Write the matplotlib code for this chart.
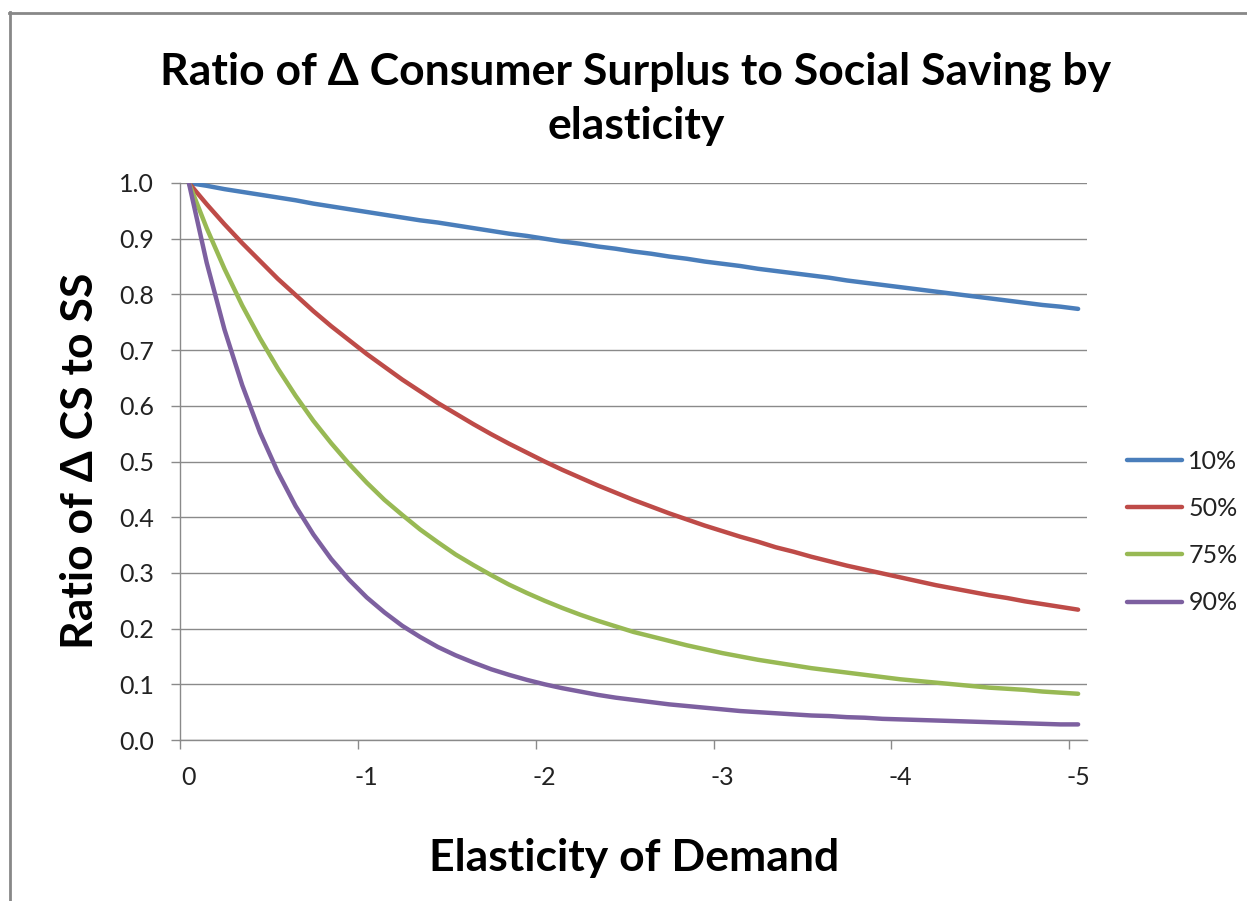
import matplotlib
matplotlib.use("Agg")
import matplotlib.pyplot as plt
from matplotlib.lines import Line2D

# Elasticity categories 0, -0.1, ..., -5.0 (one point per category)
elasticity = [round(-0.1 * i, 1) for i in range(51)]
tick_labels = ["0", "-1", "-2", "-3", "-4", "-5"]
series_names = ["10%", "50%", "75%", "90%"]

ratio_10 = [1.000, 0.995, 0.989, 0.984, 0.979, 0.974, 0.969, 0.963, 0.958, 0.953,
            0.948, 0.943, 0.938, 0.933, 0.929, 0.924, 0.919, 0.914, 0.909, 0.905,
            0.900, 0.895, 0.891, 0.886, 0.882, 0.877, 0.873, 0.868, 0.864, 0.859,
            0.855, 0.851, 0.846, 0.842, 0.838, 0.834, 0.830, 0.825, 0.821, 0.817,
            0.813, 0.809, 0.805, 0.801, 0.797, 0.793, 0.789, 0.785, 0.781, 0.778,
            0.774]
ratio_50 = [1.000, 0.962, 0.926, 0.892, 0.860, 0.828, 0.799, 0.770, 0.743, 0.718,
            0.693, 0.670, 0.647, 0.626, 0.605, 0.586, 0.567, 0.549, 0.532, 0.516,
            0.500, 0.485, 0.471, 0.457, 0.444, 0.431, 0.419, 0.407, 0.396, 0.385,
            0.375, 0.365, 0.356, 0.346, 0.338, 0.329, 0.321, 0.313, 0.306, 0.299,
            0.292, 0.285, 0.278, 0.272, 0.266, 0.260, 0.255, 0.249, 0.244, 0.239,
            0.234]
ratio_75 = [1.000, 0.919, 0.846, 0.780, 0.721, 0.667, 0.618, 0.573, 0.533, 0.496,
            0.462, 0.431, 0.404, 0.378, 0.355, 0.333, 0.314, 0.296, 0.279, 0.264,
            0.250, 0.237, 0.225, 0.214, 0.204, 0.194, 0.186, 0.178, 0.170, 0.163,
            0.156, 0.150, 0.144, 0.139, 0.134, 0.129, 0.125, 0.121, 0.117, 0.113,
            0.109, 0.106, 0.103, 0.100, 0.097, 0.094, 0.092, 0.090, 0.087, 0.085,
            0.083]
ratio_90 = [1.000, 0.857, 0.737, 0.637, 0.552, 0.481, 0.420, 0.369, 0.325, 0.288,
            0.256, 0.229, 0.205, 0.185, 0.167, 0.152, 0.139, 0.127, 0.117, 0.108,
            0.100, 0.093, 0.087, 0.081, 0.076, 0.072, 0.068, 0.064, 0.061, 0.058,
            0.055, 0.052, 0.050, 0.048, 0.046, 0.044, 0.043, 0.041, 0.040, 0.038,
            0.037, 0.036, 0.035, 0.034, 0.033, 0.032, 0.031, 0.030, 0.029, 0.028,
            0.028]

colors = ["#4A7EBB", "#BE4B48", "#98B954", "#7D60A0"]
grid_gray = "#8A8A8A"

W, H = 1247, 901
fig = plt.figure(figsize=(W / 100, H / 100), dpi=100)
fig.patch.set_facecolor("white")

# plot area in pixel coordinates
left, right, top, bottom = 180, 1087, 183, 740
ax = fig.add_axes([left / W, 1 - bottom / H, (right - left) / W, (bottom - top) / H])

x = list(range(len(elasticity)))
for vals, name, c in zip([ratio_10, ratio_50, ratio_75, ratio_90], series_names, colors):
    ax.plot(x, vals, color=c, lw=3.2, label=name, solid_capstyle="round")

ax.set_xlim(-0.5, len(elasticity) - 0.5)
ax.set_ylim(0, 1.0)

# category labels every 10 points, tick marks on category boundaries
ax.set_xticks([0, 10, 20, 30, 40, 50])
ax.set_xticklabels(tick_labels)
ax.set_xticks([-0.5, 9.5, 19.5, 29.5, 39.5, 49.5], minor=True)
ax.tick_params(axis="x", which="major", length=0, pad=19,
               labelsize=18, labelcolor="#222222")
ax.tick_params(axis="x", which="minor", length=6.5, width=1, color=grid_gray)

yt = [i / 10 for i in range(11)]
ax.set_yticks(yt)
ax.set_yticklabels([f"{v:.1f}" for v in yt])
ax.tick_params(axis="y", length=6.5, width=1, color=grid_gray, pad=12,
               labelsize=18, labelcolor="#222222")
for lab in ax.get_xticklabels() + ax.get_yticklabels():
    lab.set_family("Lato")

ax.grid(axis="y", color=grid_gray, lw=1)
ax.set_axisbelow(True)
for s in ["top", "right"]:
    ax.spines[s].set_visible(False)
for s in ["left", "bottom"]:
    ax.spines[s].set_color(grid_gray)
    ax.spines[s].set_linewidth(1)

# titles
fig.text(636 / W, 1 - 84 / H, "Ratio of Δ Consumer Surplus to Social Saving by",
         ha="center", va="baseline", fontsize=32, fontweight="bold", family="Lato")
fig.text(636 / W, 1 - 139 / H, "elasticity",
         ha="center", va="baseline", fontsize=32, fontweight="bold", family="Lato")
fig.text(634 / W, 1 - 871 / H, "Elasticity of Demand",
         ha="center", va="baseline", fontsize=32, fontweight="bold", family="Lato")
fig.text(93 / W, 1 - 461 / H, "Ratio of Δ CS to SS", rotation=90,
         rotation_mode="anchor", ha="center", va="baseline",
         fontsize=32, fontweight="bold", family="Lato")

leg = fig.legend(loc="center left", bbox_to_anchor=(1127 / W, 1 - 532 / H),
                 frameon=False, prop={"family": "Lato", "size": 18},
                 handlelength=2.2, handletextpad=0.25, labelspacing=0.97,
                 borderpad=0, borderaxespad=0)
for t in leg.get_texts():
    t.set_color("#222222")

# chart frame
fig.add_artist(Line2D([9.5 / W, 9.5 / W], [0, 1 - 12 / H], color="#888888",
                      lw=2, transform=fig.transFigure))
fig.add_artist(Line2D([9 / W, 1], [1 - 12.5 / H, 1 - 12.5 / H], color="#888888",
                      lw=2, transform=fig.transFigure))

fig.savefig("out.png", dpi=100, facecolor="white")
